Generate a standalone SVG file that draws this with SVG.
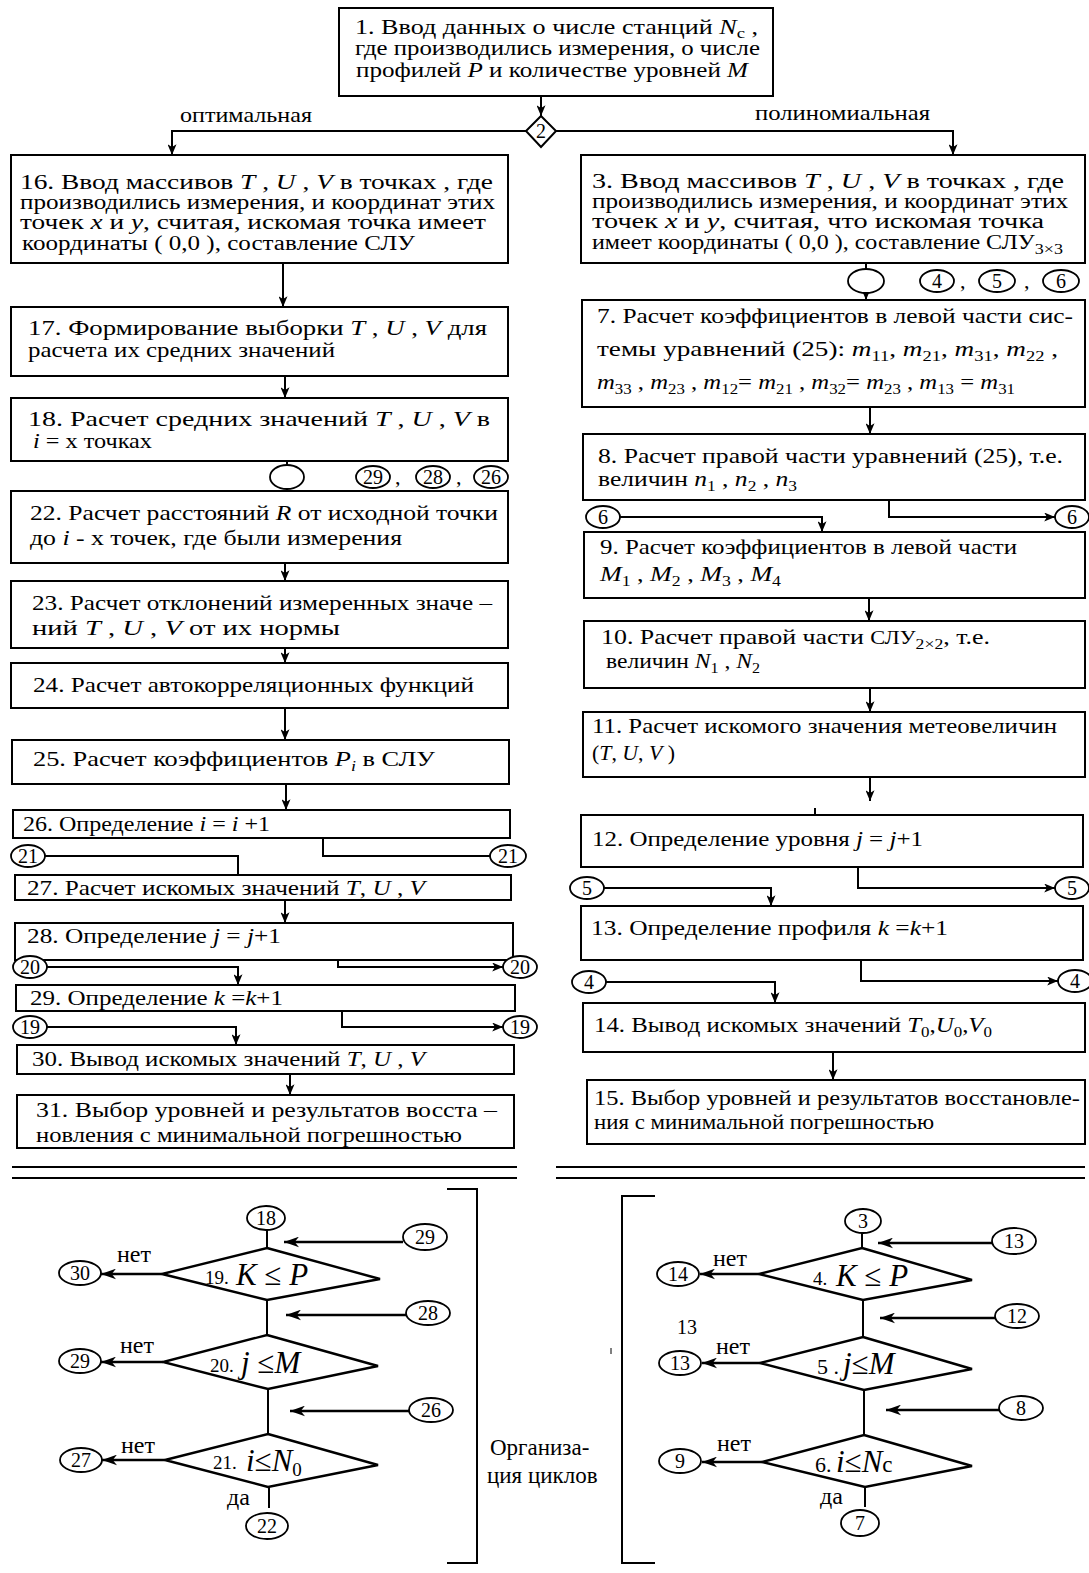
<svg xmlns="http://www.w3.org/2000/svg" width="1089" height="1573" viewBox="0 0 1089 1573" xml:space="preserve">
<style>
.box{fill:#fff;stroke:#000;stroke-width:2}
text{font-family:"Liberation Serif","Times New Roman",serif;font-size:22px;fill:#000}
.i{font-style:italic}
.s{font-size:15px}
.cn{font-size:20px;text-anchor:middle}
.ov{fill:#fff;stroke:#000;stroke-width:1.8}
.w{fill:none;stroke:#000;stroke-width:2}
.a{fill:none;stroke:#000;stroke-width:2;marker-end:url(#ah)}
.ab{fill:none;stroke:#000;stroke-width:2.6;marker-end:url(#ahb)}
.dm{fill:#fff;stroke:#000;stroke-width:2.4}
.big{font-size:31px}
.sm{font-size:19px}
.lbl{font-size:24px}
.top{font-size:21px}
.c1{font-size:23px}
.tt{font-size:20px}
</style>
<defs>
<marker id="ah" viewBox="0 0 12 10" refX="12" refY="5" markerWidth="12" markerHeight="9" markerUnits="userSpaceOnUse" orient="auto"><path d="M0,0 L12,5 L0,10 L3,5 z"/></marker>
<marker id="ahb" viewBox="0 0 14 10" refX="14" refY="5" markerWidth="15" markerHeight="11" markerUnits="userSpaceOnUse" orient="auto"><path d="M0,0 L14,5 L0,10 L4,5 z"/></marker>
</defs>

<!-- process boxes -->
<g id="n1"><rect class="box" x="339" y="8" width="434" height="88"/>
<text class="top" x="355" y="34" textLength="403" lengthAdjust="spacingAndGlyphs">1.  Ввод данных о  числе станций <tspan class="i">N</tspan><tspan class="s" dy="4">с</tspan><tspan dy="-4"> ,</tspan></text>
<text class="top" x="355" y="55" textLength="405" lengthAdjust="spacingAndGlyphs">где производились измерения, о числе</text>
<text class="top" x="356" y="77" textLength="392" lengthAdjust="spacingAndGlyphs">профилей <tspan class="i">P</tspan> и количестве уровней <tspan class="i">M</tspan></text>
</g>
<g id="n2"><polygon class="box" points="541,116 556,131 541,147 526,131"/><text class="cn" x="541" y="138">2</text></g>
<g id="lbl-opt"><text class="top" x="180" y="122" textLength="132" lengthAdjust="spacingAndGlyphs">оптимальная</text></g>
<g id="lbl-pol"><text class="top" x="755" y="120" textLength="175" lengthAdjust="spacingAndGlyphs">полиномиальная</text></g>

<g id="n16"><rect class="box" x="11" y="155" width="497" height="108"/>
<text class="tt" x="20" y="189" textLength="473" lengthAdjust="spacingAndGlyphs">16.  Ввод массивов   <tspan class="i">T</tspan>  ,  <tspan class="i">U</tspan> , <tspan class="i">V</tspan>   в точках , где</text>
<text class="tt" x="20" y="209" textLength="475" lengthAdjust="spacingAndGlyphs">производились измерения, и координат этих</text>
<text class="tt" x="20" y="229" textLength="466" lengthAdjust="spacingAndGlyphs">точек  <tspan class="i">x</tspan>  и  <tspan class="i">y</tspan>, считая, искомая точка имеет</text>
<text class="tt" x="22" y="250" textLength="393" lengthAdjust="spacingAndGlyphs">координаты  ( 0,0 ), составление СЛУ</text>
</g>
<g id="n17"><rect class="box" x="11" y="307" width="497" height="69"/>
<text x="28" y="335" textLength="459" lengthAdjust="spacingAndGlyphs">17.  Формирование выборки <tspan class="i">T</tspan>  ,  <tspan class="i">U</tspan> , <tspan class="i">V</tspan>  для</text>
<text x="28" y="357" textLength="307" lengthAdjust="spacingAndGlyphs">расчета их средних значений</text>
</g>
<g id="n18"><rect class="box" x="11" y="398" width="497" height="63"/>
<text x="28" y="426" textLength="462" lengthAdjust="spacingAndGlyphs">18.  Расчет  средних  значений  <tspan class="i">T</tspan>  ,  <tspan class="i">U</tspan> , <tspan class="i">V</tspan>   в</text>
<text x="33" y="448" textLength="119" lengthAdjust="spacingAndGlyphs"><tspan class="i">i</tspan>  = х точках</text>
</g>
<g id="n22"><rect class="box" x="11" y="491" width="497" height="72"/>
<text x="30" y="520" textLength="468" lengthAdjust="spacingAndGlyphs">22.  Расчет расстояний  <tspan class="i">R</tspan> от исходной точки</text>
<text x="30" y="545" textLength="372" lengthAdjust="spacingAndGlyphs">до <tspan class="i">i</tspan> - х  точек, где были измерения</text>
</g>
<g id="n23"><rect class="box" x="11" y="581" width="497" height="67"/>
<text x="32" y="610" textLength="460" lengthAdjust="spacingAndGlyphs">23.  Расчет отклонений измеренных значе –</text>
<text x="32" y="635" textLength="308" lengthAdjust="spacingAndGlyphs">ний   <tspan class="i">T</tspan>  ,  <tspan class="i">U</tspan> , <tspan class="i">V</tspan>   от их нормы</text>
</g>
<g id="n24"><rect class="box" x="11" y="663" width="497" height="45"/>
<text x="33" y="692" textLength="441" lengthAdjust="spacingAndGlyphs">24.  Расчет автокорреляционных функций</text>
</g>
<g id="n25"><rect class="box" x="12" y="740" width="497" height="44"/>
<text x="33" y="766" textLength="402" lengthAdjust="spacingAndGlyphs">25.  Расчет коэффициентов  <tspan class="i">P</tspan><tspan class="s i" dy="5">i</tspan><tspan dy="-5">   в СЛУ</tspan></text>
</g>
<g id="n26"><rect class="box" x="13" y="810" width="497" height="28"/>
<text x="23" y="831" textLength="247" lengthAdjust="spacingAndGlyphs">26. Определение <tspan class="i">i</tspan> = <tspan class="i">i</tspan> +1</text>
</g>
<g id="n27"><rect class="box" x="15" y="875" width="496" height="25"/>
<text x="27" y="895" textLength="398" lengthAdjust="spacingAndGlyphs">27. Расчет искомых значений  <tspan class="i">T</tspan>, <tspan class="i">U</tspan> , <tspan class="i">V</tspan></text>
</g>
<g id="n28"><rect class="box" x="15" y="923" width="498" height="37"/>
<text x="27" y="943" textLength="254" lengthAdjust="spacingAndGlyphs">28. Определение  <tspan class="i">j</tspan> = <tspan class="i">j</tspan>+1</text>
</g>
<g id="n29"><rect class="box" x="16" y="985" width="499" height="26"/>
<text x="30" y="1005" textLength="253" lengthAdjust="spacingAndGlyphs">29. Определение <tspan class="i">k</tspan> =<tspan class="i">k</tspan>+1</text>
</g>
<g id="n30"><rect class="box" x="17" y="1045" width="497" height="29"/>
<text x="32" y="1066" textLength="393" lengthAdjust="spacingAndGlyphs">30. Вывод искомых значений <tspan class="i">T</tspan>, <tspan class="i">U</tspan> , <tspan class="i">V</tspan></text>
</g>
<g id="n31"><rect class="box" x="17" y="1095" width="497" height="53"/>
<text x="36" y="1117" textLength="461" lengthAdjust="spacingAndGlyphs">31. Выбор  уровней   и   результатов восста –</text>
<text x="36" y="1142" textLength="426" lengthAdjust="spacingAndGlyphs">новления с минимальной погрешностью</text>
</g>

<g id="n3"><rect class="box" x="581" y="155" width="504" height="108"/>
<text class="tt" x="592" y="188" textLength="472" lengthAdjust="spacingAndGlyphs">3. Ввод массивов   <tspan class="i">T</tspan>  ,  <tspan class="i">U</tspan> , <tspan class="i">V</tspan>   в точках ,  где</text>
<text class="tt" x="592" y="208" textLength="476" lengthAdjust="spacingAndGlyphs">производились измерения, и координат этих</text>
<text class="tt" x="592" y="228" textLength="452" lengthAdjust="spacingAndGlyphs">точек  <tspan class="i">x</tspan>  и  <tspan class="i">y</tspan>, считая,  что искомая точка</text>
<text class="tt" x="592" y="249" textLength="471" lengthAdjust="spacingAndGlyphs">имеет координаты ( 0,0 ), составление СЛУ<tspan class="s" dy="5">3×3</tspan></text>
</g>
<g id="n7"><rect class="box" x="582" y="300" width="503" height="107"/>
<text x="597" y="323" textLength="476" lengthAdjust="spacingAndGlyphs">7.  Расчет коэффициентов в левой части сис-</text>
<text x="597" y="356" textLength="461" lengthAdjust="spacingAndGlyphs">темы уравнений (25): <tspan class="i">m</tspan><tspan class="s" dy="5">11</tspan><tspan dy="-5">,  </tspan><tspan class="i">m</tspan><tspan class="s" dy="5">21</tspan><tspan dy="-5">,  </tspan><tspan class="i">m</tspan><tspan class="s" dy="5">31</tspan><tspan dy="-5">,   </tspan><tspan class="i">m</tspan><tspan class="s" dy="5">22</tspan><tspan dy="-5"> ,</tspan></text>
<text x="597" y="389" textLength="418" lengthAdjust="spacingAndGlyphs"><tspan class="i">m</tspan><tspan class="s" dy="5">33</tspan><tspan dy="-5"> , </tspan><tspan class="i">m</tspan><tspan class="s" dy="5">23</tspan><tspan dy="-5"> , </tspan><tspan class="i">m</tspan><tspan class="s" dy="5">12</tspan><tspan dy="-5">= </tspan><tspan class="i">m</tspan><tspan class="s" dy="5">21</tspan><tspan dy="-5"> , </tspan><tspan class="i">m</tspan><tspan class="s" dy="5">32</tspan><tspan dy="-5">= </tspan><tspan class="i">m</tspan><tspan class="s" dy="5">23</tspan><tspan dy="-5"> , </tspan><tspan class="i">m</tspan><tspan class="s" dy="5">13</tspan><tspan dy="-5"> = </tspan><tspan class="i">m</tspan><tspan class="s" dy="5">31</tspan></text>
</g>
<g id="n8"><rect class="box" x="583" y="434" width="502" height="66"/>
<text x="598" y="463" textLength="465" lengthAdjust="spacingAndGlyphs">8.  Расчет правой части уравнений (25), т.е.</text>
<text x="598" y="486" textLength="199" lengthAdjust="spacingAndGlyphs">величин  <tspan class="i">n</tspan><tspan class="s" dy="5">1</tspan><tspan dy="-5"> , </tspan><tspan class="i">n</tspan><tspan class="s" dy="5">2</tspan><tspan dy="-5"> , </tspan><tspan class="i">n</tspan><tspan class="s" dy="5">3</tspan></text>
</g>
<g id="n9"><rect class="box" x="584" y="532" width="501" height="66"/>
<text x="600" y="554" textLength="417" lengthAdjust="spacingAndGlyphs">9. Расчет коэффициентов в левой части</text>
<text x="600" y="581" textLength="181" lengthAdjust="spacingAndGlyphs"><tspan class="i">M</tspan><tspan class="s" dy="5">1</tspan><tspan dy="-5"> , </tspan><tspan class="i">M</tspan><tspan class="s" dy="5">2</tspan><tspan dy="-5"> , </tspan><tspan class="i">M</tspan><tspan class="s" dy="5">3</tspan><tspan dy="-5"> , </tspan><tspan class="i">M</tspan><tspan class="s" dy="5">4</tspan></text>
</g>
<g id="n10"><rect class="box" x="584" y="621" width="501" height="67"/>
<text x="601" y="644" textLength="389" lengthAdjust="spacingAndGlyphs">10.   Расчет правой части  <tspan class="sm">СЛУ</tspan><tspan class="s" dy="5">2×2</tspan><tspan dy="-5">,  т.е.</tspan></text>
<text x="606" y="668" textLength="154" lengthAdjust="spacingAndGlyphs">величин <tspan class="i">N</tspan><tspan class="s" dy="5">1</tspan><tspan dy="-5"> , </tspan><tspan class="i">N</tspan><tspan class="s" dy="5">2</tspan></text>
</g>
<g id="n11"><rect class="box" x="583" y="712" width="502" height="65"/>
<text x="592" y="733" textLength="465" lengthAdjust="spacingAndGlyphs">11. Расчет искомого значения метеовеличин</text>
<text x="592" y="760" textLength="83" lengthAdjust="spacingAndGlyphs">(<tspan class="i">T</tspan>, <tspan class="i">U</tspan>, <tspan class="i">V</tspan> )</text>
</g>
<g id="n12"><rect class="box" x="581" y="815" width="502" height="52"/>
<text x="592" y="846" textLength="331" lengthAdjust="spacingAndGlyphs">12. Определение уровня  <tspan class="i">j</tspan> = <tspan class="i">j</tspan>+1</text>
</g>
<g id="n13"><rect class="box" x="581" y="906" width="502" height="54"/>
<text x="591" y="935" textLength="357" lengthAdjust="spacingAndGlyphs">13. Определение профиля  <tspan class="i">k</tspan> =<tspan class="i">k</tspan>+1</text>
</g>
<g id="n14"><rect class="box" x="583" y="1003" width="502" height="49"/>
<text x="594" y="1032" textLength="398" lengthAdjust="spacingAndGlyphs">14.  Вывод искомых значений  <tspan class="i">T</tspan><tspan class="s" dy="5">0</tspan><tspan dy="-5">,</tspan><tspan class="i">U</tspan><tspan class="s" dy="5">0</tspan><tspan dy="-5">,</tspan><tspan class="i">V</tspan><tspan class="s" dy="5">0</tspan></text>
</g>
<g id="n15"><rect class="box" x="587" y="1080" width="498" height="64"/>
<text x="594" y="1105" textLength="486" lengthAdjust="spacingAndGlyphs">15. Выбор уровней и результатов восстановле-</text>
<text x="594" y="1129" textLength="340" lengthAdjust="spacingAndGlyphs">ния с минимальной погрешностью</text>
</g>

<!-- page connectors of the upper flowchart -->
<g id="refs-upper">
<g id="r29a"><ellipse class="ov" cx="373" cy="477" rx="17" ry="11"/><text class="cn" x="373" y="484">29</text></g>
<text x="395" y="484">,</text>
<g id="r28a"><ellipse class="ov" cx="433" cy="477" rx="17" ry="11"/><text class="cn" x="433" y="484">28</text></g>
<text x="456" y="484">,</text>
<g id="r26a"><ellipse class="ov" cx="491" cy="477" rx="17" ry="11"/><text class="cn" x="491" y="484">26</text></g>
<g id="r21a"><ellipse class="ov" cx="28" cy="856" rx="17" ry="11"/><text class="cn" x="28" y="863">21</text></g>
<g id="r21b"><ellipse class="ov" cx="508" cy="856" rx="18" ry="11"/><text class="cn" x="508" y="863">21</text></g>
<g id="r20a"><ellipse class="ov" cx="30" cy="967" rx="17" ry="11"/><text class="cn" x="30" y="974">20</text></g>
<g id="r20b"><ellipse class="ov" cx="520" cy="967" rx="17" ry="11"/><text class="cn" x="520" y="974">20</text></g>
<g id="r19a"><ellipse class="ov" cx="30" cy="1027" rx="17" ry="11"/><text class="cn" x="30" y="1034">19</text></g>
<g id="r19b"><ellipse class="ov" cx="520" cy="1027" rx="17" ry="11"/><text class="cn" x="520" y="1034">19</text></g>
<g id="r4a"><ellipse class="ov" cx="937" cy="281" rx="17" ry="11"/><text class="cn" x="937" y="288">4</text></g>
<text x="960" y="288">,</text>
<g id="r5a"><ellipse class="ov" cx="997" cy="281" rx="18" ry="11"/><text class="cn" x="997" y="288">5</text></g>
<text x="1024" y="288">,</text>
<g id="r6a"><ellipse class="ov" cx="1061" cy="281" rx="18" ry="11"/><text class="cn" x="1061" y="288">6</text></g>
<g id="r6b"><ellipse class="ov" cx="603" cy="517" rx="17" ry="11"/><text class="cn" x="603" y="524">6</text></g>
<g id="r6c"><ellipse class="ov" cx="1072" cy="517" rx="17" ry="11"/><text class="cn" x="1072" y="524">6</text></g>
<g id="r5b"><ellipse class="ov" cx="587" cy="888" rx="17" ry="11"/><text class="cn" x="587" y="895">5</text></g>
<g id="r5c"><ellipse class="ov" cx="1072" cy="888" rx="17" ry="11"/><text class="cn" x="1072" y="895">5</text></g>
<g id="r4b"><ellipse class="ov" cx="589" cy="982" rx="17" ry="11"/><text class="cn" x="589" y="989">4</text></g>
<g id="r4c"><ellipse class="ov" cx="1075" cy="981" rx="17" ry="11"/><text class="cn" x="1075" y="988">4</text></g>
</g>

<!-- connectors -->
<g id="connectors">
<line class="a" x1="541" y1="96" x2="541" y2="116"/>
<path class="a" d="M526,131 H172 V155"/>
<path class="a" d="M556,131 H953 V155"/>
<line class="a" x1="283" y1="263" x2="283" y2="307"/>
<line class="a" x1="285" y1="376" x2="285" y2="398"/>
<line class="a" x1="287" y1="461" x2="287" y2="491"/>
<line class="a" x1="285" y1="563" x2="285" y2="581"/>
<line class="a" x1="285" y1="648" x2="285" y2="663"/>
<line class="a" x1="285" y1="708" x2="285" y2="740"/>
<line class="a" x1="286" y1="784" x2="286" y2="810"/>
<path class="w" d="M323,838 V856 H490"/>
<path class="w" d="M45,856 H238 V875"/>
<line class="a" x1="285" y1="900" x2="285" y2="923"/>
<path class="a" d="M338,960 V967 H503"/>
<path class="a" d="M47,967 H238 V985"/>
<path class="a" d="M342,1011 V1027 H503"/>
<path class="a" d="M47,1027 H236 V1045"/>
<line class="a" x1="290" y1="1074" x2="290" y2="1095"/>

<line class="a" x1="866" y1="263" x2="866" y2="300"/>
<line class="a" x1="870" y1="407" x2="870" y2="434"/>
<path class="a" d="M889,500 V517 H1055"/>
<path class="a" d="M620,517 H822 V532"/>
<line class="a" x1="869" y1="598" x2="869" y2="621"/>
<line class="a" x1="870" y1="688" x2="870" y2="712"/>
<line class="a" x1="870" y1="777" x2="870" y2="801"/>
<line class="w" x1="815" y1="808" x2="815" y2="815"/>
<path class="a" d="M858,867 V888 H1055"/>
<path class="a" d="M604,888 H771 V906"/>
<path class="a" d="M861,960 V981 H1058"/>
<path class="a" d="M606,982 H775 V1003"/>
<line class="a" x1="833" y1="1052" x2="833" y2="1080"/>

<!-- loop organisation diagrams -->
<line class="w" x1="267" y1="1230" x2="267" y2="1248"/>
<line class="ab" x1="403" y1="1242" x2="284" y2="1242"/>
<line class="ab" x1="162" y1="1274" x2="101" y2="1274"/>
<line class="w" x1="267" y1="1300" x2="267" y2="1335"/>
<line class="ab" x1="406" y1="1315" x2="286" y2="1315"/>
<line class="ab" x1="163" y1="1362" x2="101" y2="1362"/>
<line class="w" x1="268" y1="1389" x2="268" y2="1434"/>
<line class="ab" x1="409" y1="1411" x2="290" y2="1411"/>
<line class="ab" x1="165" y1="1460" x2="102" y2="1460"/>
<line class="w" x1="269" y1="1487" x2="269" y2="1508"/>

<line class="w" x1="862" y1="1233" x2="862" y2="1248"/>
<line class="ab" x1="992" y1="1243" x2="878" y2="1243"/>
<line class="ab" x1="759" y1="1274" x2="700" y2="1274"/>
<line class="w" x1="863" y1="1300" x2="863" y2="1337"/>
<line class="ab" x1="995" y1="1318" x2="880" y2="1318"/>
<line class="ab" x1="760" y1="1363" x2="702" y2="1363"/>
<line class="w" x1="864" y1="1390" x2="864" y2="1435"/>
<line class="ab" x1="999" y1="1410" x2="886" y2="1410"/>
<line class="ab" x1="762" y1="1462" x2="702" y2="1462"/>
<line class="w" x1="865" y1="1487" x2="865" y2="1507"/>
</g>

<!-- junction ovals on the vertical flow -->
<g id="j1"><ellipse class="ov" cx="287" cy="477" rx="17" ry="12"/></g>
<g id="j2"><ellipse class="ov" cx="866" cy="281" rx="18" ry="12"/></g>

<!-- separators -->
<g id="separators">
<line class="w" x1="12" y1="1167" x2="517" y2="1167"/>
<line class="w" x1="12" y1="1178" x2="517" y2="1178"/>
<line class="w" x1="556" y1="1167" x2="1085" y2="1167"/>
<line class="w" x1="556" y1="1178" x2="1085" y2="1178"/>
</g>

<!-- loops of the optimal method -->
<g id="loops-left">
<g id="c18"><ellipse class="ov" cx="266" cy="1218" rx="19" ry="12"/><text class="cn" x="266" y="1225">18</text></g>
<g id="c29in"><ellipse class="ov" cx="425" cy="1237" rx="22" ry="13"/><text class="cn" x="425" y="1244">29</text></g>
<g id="d19"><polygon class="dm" points="267,1248 380,1279 267,1300 162,1274"/>
<text class="sm" x="205" y="1284">19.</text><text class="big i" x="236" y="1285">K <tspan font-style="normal">≤</tspan> P</text></g>
<text class="lbl" x="117" y="1262">нет</text>
<g id="c30"><ellipse class="ov" cx="80" cy="1273" rx="21" ry="12"/><text class="cn" x="80" y="1280">30</text></g>
<g id="c28in"><ellipse class="ov" cx="428" cy="1313" rx="22" ry="12"/><text class="cn" x="428" y="1320">28</text></g>
<g id="d20"><polygon class="dm" points="267,1335 378,1366 268,1389 163,1362"/>
<text class="sm" x="210" y="1372">20.</text><text class="big i" x="241" y="1373">j <tspan font-style="normal">≤</tspan>M</text></g>
<text class="lbl" x="120" y="1353">нет</text>
<g id="c29out"><ellipse class="ov" cx="80" cy="1361" rx="21" ry="12"/><text class="cn" x="80" y="1368">29</text></g>
<g id="c26in"><ellipse class="ov" cx="431" cy="1410" rx="22" ry="12"/><text class="cn" x="431" y="1417">26</text></g>
<g id="d21"><polygon class="dm" points="268,1434 378,1465 268,1487 165,1460"/>
<text class="sm" x="213" y="1469">21.</text><text class="big i" x="246" y="1471">i<tspan font-style="normal">≤</tspan>N<tspan class="sm" font-style="normal" dy="5">0</tspan></text></g>
<text class="lbl" x="121" y="1453">нет</text>
<g id="c27"><ellipse class="ov" cx="81" cy="1460" rx="21" ry="12"/><text class="cn" x="81" y="1467">27</text></g>
<text class="lbl" x="227" y="1505">да</text>
<g id="c22"><ellipse class="ov" cx="267" cy="1526" rx="21" ry="13"/><text class="cn" x="267" y="1533">22</text></g>
<path class="w" d="M447,1189 H477 V1563 H447"/>
</g>

<g id="caption"><text class="c1" x="490" y="1455">Организа-</text><text class="c1" x="487" y="1483">ция циклов</text></g>

<!-- loops of the polynomial method -->
<g id="loops-right">
<g id="c3"><ellipse class="ov" cx="863" cy="1221" rx="18" ry="12"/><text class="cn" x="863" y="1228">3</text></g>
<g id="c13in"><ellipse class="ov" cx="1014" cy="1241" rx="22" ry="13"/><text class="cn" x="1014" y="1248">13</text></g>
<g id="d4"><polygon class="dm" points="862,1248 972,1280 863,1300 759,1274"/>
<text class="sm" x="813" y="1285">4.</text><text class="big i" x="836" y="1286">K <tspan font-style="normal">≤</tspan> P</text></g>
<text class="lbl" x="713" y="1266">нет</text>
<g id="c14"><ellipse class="ov" cx="678" cy="1274" rx="21" ry="12"/><text class="cn" x="678" y="1281">14</text></g>
<g id="c12in"><ellipse class="ov" cx="1017" cy="1316" rx="22" ry="12"/><text class="cn" x="1017" y="1323">12</text></g>
<text class="cn" x="687" y="1334">13</text>
<line x1="611" y1="1348" x2="611" y2="1354" stroke="#000" stroke-width="1"/>
<g id="d5"><polygon class="dm" points="863,1337 972,1369 864,1390 760,1363"/>
<text x="817" y="1374">5 .</text><text class="big i" x="843" y="1374">j<tspan font-style="normal">≤</tspan>M</text></g>
<text class="lbl" x="716" y="1354">нет</text>
<g id="c13out"><ellipse class="ov" cx="680" cy="1363" rx="21" ry="12"/><text class="cn" x="680" y="1370">13</text></g>
<g id="c8in"><ellipse class="ov" cx="1021" cy="1408" rx="22" ry="12"/><text class="cn" x="1021" y="1415">8</text></g>
<g id="d6"><polygon class="dm" points="864,1435 972,1466 865,1487 762,1462"/>
<text x="815" y="1472">6.</text><text class="big i" x="836" y="1472">i<tspan font-style="normal">≤</tspan>N<tspan font-style="normal" font-size="23px">с</tspan></text></g>
<text class="lbl" x="717" y="1451">нет</text>
<g id="c9"><ellipse class="ov" cx="680" cy="1461" rx="21" ry="12"/><text class="cn" x="680" y="1468">9</text></g>
<text class="lbl" x="820" y="1504">да</text>
<g id="c7"><ellipse class="ov" cx="860" cy="1523" rx="19" ry="13"/><text class="cn" x="860" y="1530">7</text></g>
<path class="w" d="M655,1196 H622 V1563 H655"/>
</g>
</svg>
